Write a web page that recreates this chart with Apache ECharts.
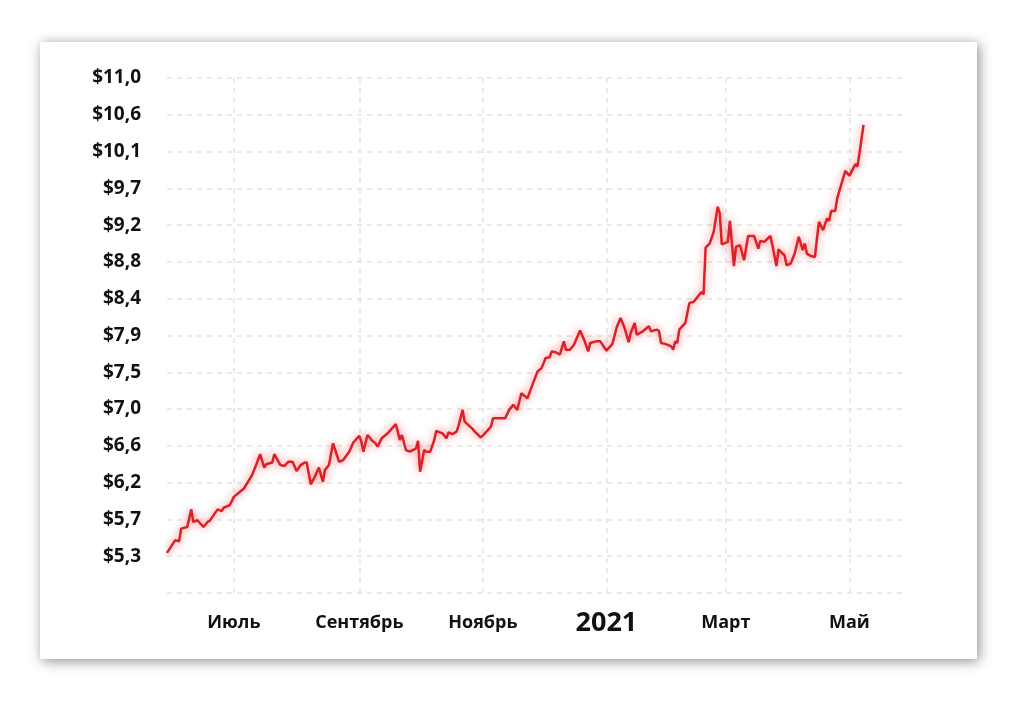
<!DOCTYPE html>
<html><head><meta charset="utf-8">
<script src="https://cdn.jsdelivr.net/npm/echarts@6/dist/echarts.min.js"></script>
<style>html,body{margin:0;padding:0;background:#fff;} #c{width:1025px;height:709px;}</style>
</head><body><div id="c"></div>
<script>
const dates = [
'2020-05-29','2020-06-02','2020-06-04','2020-06-05','2020-06-08','2020-06-10','2020-06-11','2020-06-13','2020-06-16','2020-06-18',
'2020-06-19','2020-06-23','2020-06-25','2020-06-26','2020-06-29','2020-07-01','2020-07-03','2020-07-06','2020-07-10','2020-07-12',
'2020-07-14','2020-07-16','2020-07-17','2020-07-20','2020-07-21','2020-07-24','2020-07-26','2020-07-28','2020-07-30','2020-08-01',
'2020-08-03','2020-08-05','2020-08-06','2020-08-08','2020-08-10','2020-08-12','2020-08-14','2020-08-15','2020-08-17','2020-08-19',
'2020-08-22','2020-08-24','2020-08-27','2020-08-29','2020-09-01','2020-09-02','2020-09-03','2020-09-05','2020-09-07','2020-09-09',
'2020-09-10','2020-09-12','2020-09-14','2020-09-15','2020-09-19','2020-09-21','2020-09-22','2020-09-24','2020-09-26','2020-09-29',
'2020-09-30','2020-10-01','2020-10-03','2020-10-04','2020-10-06','2020-10-08','2020-10-09','2020-10-12','2020-10-14','2020-10-15',
'2020-10-17','2020-10-19','2020-10-20','2020-10-22','2020-10-23','2020-10-27','2020-10-28','2020-10-31','2020-11-02','2020-11-05',
'2020-11-06','2020-11-10','2020-11-12','2020-11-14','2020-11-16','2020-11-18','2020-11-20','2020-11-23','2020-11-25','2020-11-28',
'2020-11-30','2020-12-02','2020-12-04','2020-12-05','2020-12-07','2020-12-09','2020-12-11','2020-12-12','2020-12-14','2020-12-16',
'2020-12-19','2020-12-21','2020-12-23','2020-12-24','2020-12-27','2020-12-29','2021-01-01','2021-01-04','2021-01-06','2021-01-08',
'2021-01-10','2021-01-12','2021-01-13','2021-01-15','2021-01-16','2021-01-19','2021-01-22','2021-01-23','2021-01-26','2021-01-27',
'2021-01-28','2021-01-30','2021-01-31','2021-02-02','2021-02-03','2021-02-04','2021-02-05','2021-02-06','2021-02-09','2021-02-11',
'2021-02-13','2021-02-15','2021-02-17','2021-02-18','2021-02-19','2021-02-21','2021-02-23','2021-02-25','2021-02-26','2021-02-27',
'2021-03-02','2021-03-03','2021-03-05','2021-03-06','2021-03-08','2021-03-10','2021-03-12','2021-03-15','2021-03-17','2021-03-18',
'2021-03-20','2021-03-23','2021-03-24','2021-03-26','2021-03-27','2021-03-29','2021-03-30','2021-03-31','2021-04-02','2021-04-04',
'2021-04-06','2021-04-08','2021-04-09','2021-04-10','2021-04-12','2021-04-14','2021-04-15','2021-04-16','2021-04-18','2021-04-20',
'2021-04-21','2021-04-22','2021-04-24','2021-04-25','2021-04-29','2021-05-01','2021-05-04','2021-05-05','2021-05-06','2021-05-08'
];
const prices = [
5.32,5.47,5.46,5.61,5.63,5.84,5.69,5.71,5.63,5.69,
5.70,5.84,5.82,5.86,5.89,5.99,6.03,6.09,6.25,6.37,
6.50,6.34,6.38,6.40,6.50,6.37,6.36,6.41,6.41,6.30,
6.37,6.40,6.40,6.14,6.23,6.34,6.17,6.31,6.37,6.63,
6.41,6.43,6.53,6.64,6.72,6.65,6.53,6.73,6.67,6.63,
6.59,6.69,6.73,6.75,6.86,6.67,6.73,6.55,6.53,6.57,
6.66,6.29,6.55,6.53,6.53,6.67,6.78,6.75,6.69,6.76,
6.74,6.77,6.84,7.03,6.89,6.80,6.77,6.70,6.75,6.83,
6.93,6.93,6.93,7.03,7.09,7.03,7.23,7.17,7.30,7.49,
7.53,7.65,7.66,7.73,7.72,7.69,7.85,7.75,7.75,7.81,
7.98,7.87,7.73,7.83,7.85,7.85,7.74,7.82,8.01,8.13,
8.01,7.84,7.95,8.07,7.93,7.97,8.03,7.97,7.99,7.97,
7.83,7.82,7.81,7.79,7.75,7.85,7.83,7.99,8.07,8.31,
8.32,8.38,8.44,8.41,8.97,9.02,9.16,9.46,9.38,9.01,
9.04,9.29,8.75,8.98,9.00,8.82,9.11,9.11,8.96,9.05,
9.04,9.11,9.00,8.75,8.95,8.90,8.88,8.76,8.78,8.90,
9.10,8.94,9.02,8.90,8.87,8.86,9.08,9.28,9.18,9.32,
9.29,9.41,9.41,9.56,9.89,9.83,9.97,9.94,10.10,10.44
];
const monthNames = ['Январь','Февраль','Март','Апрель','Май','Июнь','Июль','Август','Сентябрь','Октябрь','Ноябрь','Декабрь'];
const xMin = '2020-05-29', xMax = '2021-05-27';
const yMin = 4.84, yMax = 11, yStep = 0.44;

const DAY = 86400000;
const chart = echarts.init(document.getElementById('c'), null, {renderer: 'canvas'});
chart.setOption({
  animation: false,
  backgroundColor: '#ffffff',
  graphic: [{
    type: 'rect', z: -10, silent: true,
    shape: {x: 40, y: 42, width: 937, height: 617},
    style: {fill: '#ffffff', shadowBlur: 12, shadowColor: 'rgba(0,0,0,0.45)', shadowOffsetX: 2, shadowOffsetY: 2}
  }],
  grid: {left: 167, right: 123, top: 78, bottom: 116},
  xAxis: {
    type: 'time',
    min: xMin, max: xMax,
    minInterval: 61 * DAY, maxInterval: 89 * DAY,
    axisLine: {show: false},
    axisTick: {show: false},
    splitLine: {show: true, showMinLine: false, showMaxLine: false, lineStyle: {color: '#e4e4e4', type: [5, 5], width: 1.5}},
    axisLabel: {
      margin: 30, verticalAlign: 'middle',
      fontFamily: 'Open Sans', fontWeight: 'bold', fontSize: 18, color: '#111',
      formatter: function (value) {
        const d = new Date(value);
        if (d.getDate() !== 1) return '';
        const m = d.getMonth();
        if (m === 0) return '{yr|' + d.getFullYear() + '}';
        return '{mo|' + monthNames[m] + '}';
      },
      rich: {
        yr: {fontFamily: 'Open Sans', fontWeight: 'bold', fontSize: 27, color: '#111'},
        mo: {fontFamily: 'Open Sans', fontWeight: 'bold', fontSize: 18, color: '#111'}
      }
    }
  },
  yAxis: {
    type: 'value',
    min: yMin, max: yMax, interval: yStep,
    axisLine: {show: false},
    axisTick: {show: false},
    splitLine: {show: true, lineStyle: {color: '#e4e4e4', type: [5, 5], width: 1.5}},
    axisLabel: {
      margin: 26,
      fontFamily: 'Open Sans', fontWeight: 'bold', fontSize: 19, color: '#111',
      formatter: function (v) {
        if (v < yMin + yStep / 2) return '';
        return '$' + v.toFixed(1).replace('.', ',');
      }
    }
  },
  series: [{
    type: 'line',
    data: dates.map(function (d, i) { return [d, prices[i]]; }),
    showSymbol: false,
    lineStyle: {color: '#dd1f27', width: 2.5, shadowColor: 'rgba(240,20,20,0.6)', shadowBlur: 9},
    itemStyle: {color: '#dd1f27'}
  }]
});
</script></body></html>
